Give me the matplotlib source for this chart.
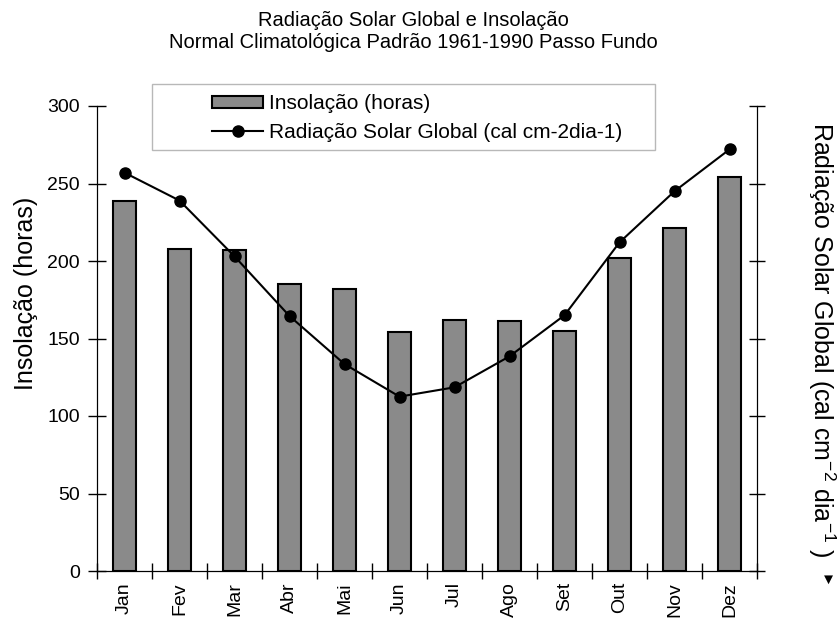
import numpy as np
import matplotlib
matplotlib.use("Agg")
from matplotlib import pyplot as plt
from matplotlib.patches import Rectangle

plt.rcParams["font.family"] = ["Liberation Sans", "DejaVu Sans"]
plt.rcParams["mathtext.default"] = "regular"

# Normal climatológica 1961-1990, Passo Fundo
meses = ["Jan", "Fev", "Mar", "Abr", "Mai", "Jun", "Jul", "Ago", "Set", "Out", "Nov", "Dez"]
insolacao = [239, 208, 207, 185, 182, 154, 162, 161, 155, 202, 221, 254]  # horas
radiacao = [514, 478, 406, 329, 267, 225, 237, 277, 330, 424, 490, 544]  # cal cm-2 dia-1
y_ticks_left = [0, 50, 100, 150, 200, 250, 300]
y_ticks_right = [0, 100, 200, 300, 400, 500, 600]

W, H = 838, 621
fig = plt.figure(figsize=(W / 100, H / 100), dpi=100)
ax = fig.add_axes([97 / W, 1 - 571 / H, 660 / W, 465 / H])

x = np.arange(len(meses))
barras = ax.bar(x, insolacao, width=0.43, color="#8a8a8a", edgecolor="black",
                linewidth=1.5, zorder=2)

ax.set_xlim(-0.5, 11.5)
ax.set_ylim(0, 300)
ax.set_yticks(y_ticks_left)
ax.set_xticks(np.arange(-0.5, 12, 1))
ax.set_xticklabels([])
ax.set_xticks(x, minor=True)
ax.set_xticklabels(meses, minor=True, rotation=90, fontsize=14)
ax.tick_params(axis="x", which="minor", length=0, pad=8)
ax.tick_params(axis="x", which="major", direction="inout", length=12, width=1)
ax.tick_params(axis="y", direction="inout", length=13, width=1, labelsize=14, pad=6)
ax.spines["top"].set_visible(False)

ax2 = ax.twinx()
linha, = ax2.plot(x, radiacao, "-o", color="black", lw=1.5, ms=8, zorder=3)
ax2.set_ylim(0, 600)
ax2.set_yticks(y_ticks_right)
ax2.tick_params(axis="y", direction="inout", length=11, width=1, labelright=False)
ax2.spines["top"].set_visible(False)

# eixo y esquerdo e direito
fig.text(26 / W, 1 - 293 / H, "Insolação (horas)", rotation=90, fontsize=18,
         ha="center", va="center")
fig.text(822 / W, 1 - 340 / H, r"Radiação Solar Global (cal cm$^{-2}$ dia$^{-1}$ )",
         rotation=-90, fontsize=18, ha="center", va="center")
fig.text(828 / W, 1 - 580 / H, "▼", fontsize=11, ha="center", va="center")

# título
fig.text(413.5 / W, 1 - 21 / H, "Radiação Solar Global e Insolação", fontsize=14.5,
         ha="center", va="center")
fig.text(413.5 / W, 1 - 42 / H, "Normal Climatológica Padrão 1961-1990 Passo Fundo",
         fontsize=14.5, ha="center", va="center")

# legenda com moldura
fig.patches.append(Rectangle((152 / W, 1 - 150 / H), 503 / W, 66 / H,
                             transform=fig.transFigure, facecolor="white",
                             edgecolor="#b8b8b8", lw=1, zorder=1))
fig.legend([barras, linha],
           ["Insolação (horas)", "Radiação Solar Global (cal cm-2dia-1)"],
           loc="upper left", bbox_to_anchor=(202 / W, 1 - 84 / H), frameon=False,
           fontsize=15, borderpad=0, handlelength=2.45, handleheight=0.5,
           handletextpad=0.25, labelspacing=0.45)

fig.savefig("out.png", dpi=100, facecolor="white")
